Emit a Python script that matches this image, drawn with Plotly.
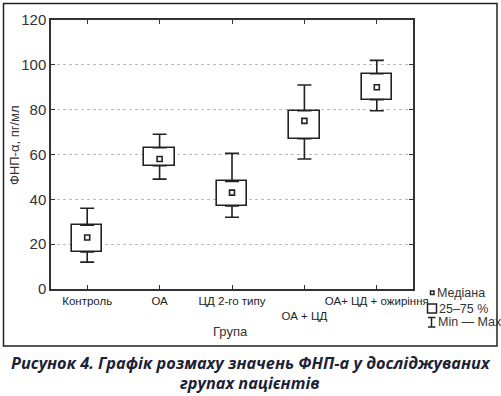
import plotly.graph_objects as go

categories = ["Контроль", "ОА", "ЦД 2-го типу", "ОА + ЦД", "ОА+ ЦД + ожиріння"]
tick_labels = ["Контроль", "ОА", "ЦД 2-го типу", "<br>ОА + ЦД", "ОА+ ЦД + ожиріння"]
mins = [12, 49, 32, 58, 79.5]
q1s = [16.5, 55, 37, 67, 84.5]
medians = [23, 58, 43, 75, 90]
q3s = [28.5, 63, 48, 79.5, 96]
maxs = [36, 69, 60.5, 91, 102]

x = list(range(len(categories)))
W, H = 501, 396
L, R, T, B = 51, 413, 20, 289

def px(xp):
    return (xp - L) / (R - L)

def py(yp):
    return (B - yp) / (B - T)

AX = "#333333"
INK = "#222222"
fig = go.Figure()

# boxes (25-75%)
fig.add_trace(go.Bar(
    x=x, y=[b - a for a, b in zip(q1s, q3s)], base=q1s, width=0.42,
    marker=dict(color="white", line=dict(color=INK, width=1.6)),
    hoverinfo="skip", showlegend=False))

# upper whiskers
fig.add_trace(go.Scatter(
    x=x, y=q3s, mode="markers", marker=dict(size=1, color="rgba(0,0,0,0)"),
    error_y=dict(type="data", symmetric=False,
                 array=[b - a for a, b in zip(q3s, maxs)],
                 arrayminus=[0] * len(x), color=INK, thickness=1.6, width=7),
    hoverinfo="skip", showlegend=False))
# lower whiskers
fig.add_trace(go.Scatter(
    x=x, y=q1s, mode="markers", marker=dict(size=1, color="rgba(0,0,0,0)"),
    error_y=dict(type="data", symmetric=False,
                 array=[0] * len(x),
                 arrayminus=[a - b for a, b in zip(q1s, mins)], color=INK, thickness=1.6, width=7),
    hoverinfo="skip", showlegend=False))
# medians
fig.add_trace(go.Scatter(
    x=x, y=medians, mode="markers",
    marker=dict(symbol="square-open", size=5, color=INK, line=dict(width=1.6)),
    hoverinfo="skip", showlegend=False))

font_chart = "Liberation Sans, Arial, sans-serif"

fig.update_layout(
    width=W, height=H,
    margin=dict(l=L, r=W - R, t=T, b=H - B, autoexpand=False),
    paper_bgcolor="white", plot_bgcolor="white",
    font=dict(family=font_chart, color="#333333"),
    bargap=0,
    xaxis=dict(range=[-0.5, len(x) - 0.5], tickvals=x, ticktext=tick_labels, tickangle=0,
               automargin=False,
               showgrid=False, zeroline=False, showline=True, linecolor=AX, linewidth=1.5,
               mirror="ticks", ticks="inside", ticklen=4, tickcolor=AX, tickwidth=1,
               tickfont=dict(size=11.5, color=INK)),
    yaxis=dict(range=[0, 120], dtick=20, showgrid=True, gridcolor="#bbbbbb", griddash="dot",
               automargin=False,
               gridwidth=1, zeroline=False, showline=True, linecolor=AX, linewidth=1.5,
               mirror="ticks", ticks="inside", ticklen=4, tickcolor=AX, tickwidth=1,
               tickfont=dict(size=15, color="#333333")),
)

# outer frame
fig.add_shape(type="rect", xref="paper", yref="paper",
              x0=px(3.5), x1=px(497), y0=py(346), y1=py(3.5),
              line=dict(color=INK, width=1.5), fillcolor="rgba(0,0,0,0)", layer="below")

# axis titles
fig.add_annotation(text="Група", xref="paper", yref="paper", x=px(230), y=py(331),
                   showarrow=False, font=dict(size=13, color="#333333"), xanchor="center", yanchor="middle")
fig.add_annotation(text="ФНП-α, пг/мл", xref="paper", yref="paper", x=px(14), y=py(145),
                   showarrow=False, textangle=-90, font=dict(size=13, color="#333333"),
                   xanchor="center", yanchor="middle")

# legend icons
fig.add_shape(type="rect", xref="paper", yref="paper", x0=px(430.5), x1=px(434), y0=py(294.5), y1=py(291),
              line=dict(color=INK, width=1.5), fillcolor="white")
fig.add_shape(type="rect", xref="paper", yref="paper", x0=px(427.5), x1=px(436.5), y0=py(313), y1=py(304),
              line=dict(color=INK, width=1.5), fillcolor="white")
fig.add_shape(type="line", xref="paper", yref="paper", x0=px(431.5), x1=px(431.5), y0=py(327), y1=py(317.5),
              line=dict(color=INK, width=1.5))
fig.add_shape(type="line", xref="paper", yref="paper", x0=px(428), x1=px(435.5), y0=py(317.5), y1=py(317.5),
              line=dict(color=INK, width=1.5))
fig.add_shape(type="line", xref="paper", yref="paper", x0=px(428), x1=px(435.5), y0=py(327), y1=py(327),
              line=dict(color=INK, width=1.5))
for txt, xx, yy in [("Медіана", 434.5, 292.5), ("25–75 %", 436.5, 308.5), ("Min — Max", 436, 322)]:
    fig.add_annotation(text=txt, xref="paper", yref="paper", x=px(xx), y=py(yy), showarrow=False,
                       xanchor="left", yanchor="middle", font=dict(size=12.5, color="#333333"))

# caption
cap_font = dict(family="Open Sans, Noto Sans, sans-serif", size=16.3, color="#1c2236")
fig.add_annotation(text="<b><i>Рисунок 4. Графік розмаху значень ФНП-а у досліджуваних</i></b>",
                   xref="paper", yref="paper", x=px(251), y=py(363), showarrow=False,
                   xanchor="center", yanchor="middle", font=cap_font)
fig.add_annotation(text="<b><i>групах пацієнтів</i></b>",
                   xref="paper", yref="paper", x=px(250), y=py(382.5), showarrow=False,
                   xanchor="center", yanchor="middle", font=cap_font)

fig.write_html("out.html", config={"displayModeBar": False},
               post_script="document.body.style.margin='0';document.body.style.overflow='hidden';")
